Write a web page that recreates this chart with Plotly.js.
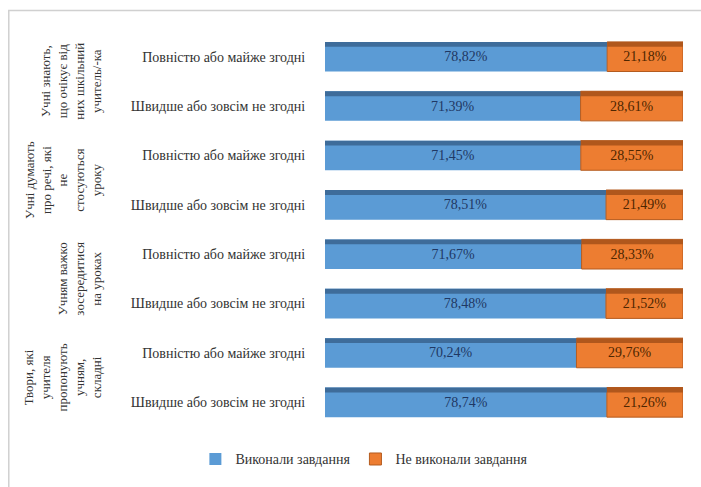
<!DOCTYPE html>
<html>
<head>
<meta charset="utf-8">
<script src="https://cdn.plot.ly/plotly-3.0.1.min.js"></script>
<style>html,body{margin:0;padding:0;background:#fff;}#chart{width:701px;height:487px;}</style>
</head>
<body>
<div id="chart"></div>
<script>
// Row categories (top to bottom)
const rowIds = ['r1','r2','r3','r4','r5','r6','r7','r8'];
const rowLabels = [
  'Повністю або майже згодні',
  'Швидше або зовсім не згодні',
  'Повністю або майже згодні',
  'Швидше або зовсім не згодні',
  'Повністю або майже згодні',
  'Швидше або зовсім не згодні',
  'Повністю або майже згодні',
  'Швидше або зовсім не згодні'
];
const groupLabels = [
  'Учні знають,<br>що очікує від<br>них шкільний<br>учитель/-ка',
  'Учні думають<br>про речі, які<br>не<br>стосуються<br>уроку',
  'Учням важко<br>зосередитися<br>на уроках',
  'Твори, які<br>учителя<br>пропонують<br>учням,<br>складні'
];
const done    = [78.82, 71.39, 71.45, 78.51, 71.67, 78.48, 70.24, 78.74];
const notDone = [21.18, 28.61, 28.55, 21.49, 28.33, 21.52, 29.76, 21.26];
const seriesNames = ['Виконали завдання', 'Не виконали завдання'];

const fmt = v => v.toFixed(2).replace('.', ',') + '%';
const serif = 'Liberation Serif';

const traces = [
  {type:'bar', orientation:'h', name:seriesNames[0], y:rowIds, x:done, base:done.map(()=>0),
   width:0.6, offset:-0.3,
   marker:{color:'#5B9BD5'}, text:done.map(fmt), textposition:'inside', insidetextanchor:'middle',
   textfont:{family:serif, size:14, color:'#1F3864'}, hoverinfo:'x+name'},
  {type:'bar', orientation:'h', name:seriesNames[1], y:rowIds, x:notDone, base:done,
   width:0.6, offset:-0.3,
   marker:{color:'#ED7D31', line:{color:'#B45B1F', width:1}}, text:notDone.map(fmt), textposition:'inside', insidetextanchor:'middle',
   textfont:{family:serif, size:14, color:'#4D2600'}, hoverinfo:'x+name'},
  // top faces (3D look)
  {type:'bar', orientation:'h', showlegend:false, hoverinfo:'skip', y:rowIds, x:done, base:done.map(()=>0),
   width:0.1, offset:-0.3, marker:{color:'#3E6C9A'}},
  {type:'bar', orientation:'h', showlegend:false, hoverinfo:'skip', y:rowIds, x:notDone, base:done,
   width:0.1, offset:-0.3, marker:{color:'#B0571C'}}
];

const annotations = groupLabels.map((t, i) => ({
  text: t, textangle: -90, xref: 'paper', yref: 'y', x: -0.611, y: 2*i + 0.5,
  xanchor: 'right', yanchor: 'middle', align: 'center', showarrow: false,
  font: {family: serif, size: 13, color: '#333333'}
}));

const layout = {
  width: 701, height: 487,
  margin: {l: 325, r: 18, t: 32, b: 53},
  paper_bgcolor: '#fff', plot_bgcolor: '#fff',
  font: {family: serif},
  barmode: 'overlay',
  showlegend: true,
  legend: {orientation: 'h', x: 0.11, xanchor: 'center', y: -0.082, yanchor: 'middle',
           font: {family: serif, size: 14, color: '#333333'}, traceorder: 'normal',
           itemwidth: 30},
  xaxis: {range: [0, 100], visible: false, fixedrange: true},
  yaxis: {type: 'category', autorange: 'reversed', tickvals: rowIds, ticktext: rowLabels,
          ticks: 'outside', ticklen: 16, tickcolor: 'rgba(0,0,0,0)', showline: false,
          showgrid: false, zeroline: false,
          tickfont: {family: serif, size: 14, color: '#333333'}},
  annotations: annotations,
  shapes: [{type: 'rect', xref: 'paper', yref: 'paper', x0: -0.8833, x1: 1.2, y0: -0.3, y1: 1.0547,
            line: {color: '#D0D0D0', width: 1.5}, fillcolor: 'rgba(0,0,0,0)', layer: 'below'}]
};

Plotly.newPlot('chart', traces, layout, {displayModeBar: false, staticPlot: true});
</script>
</body>
</html>
